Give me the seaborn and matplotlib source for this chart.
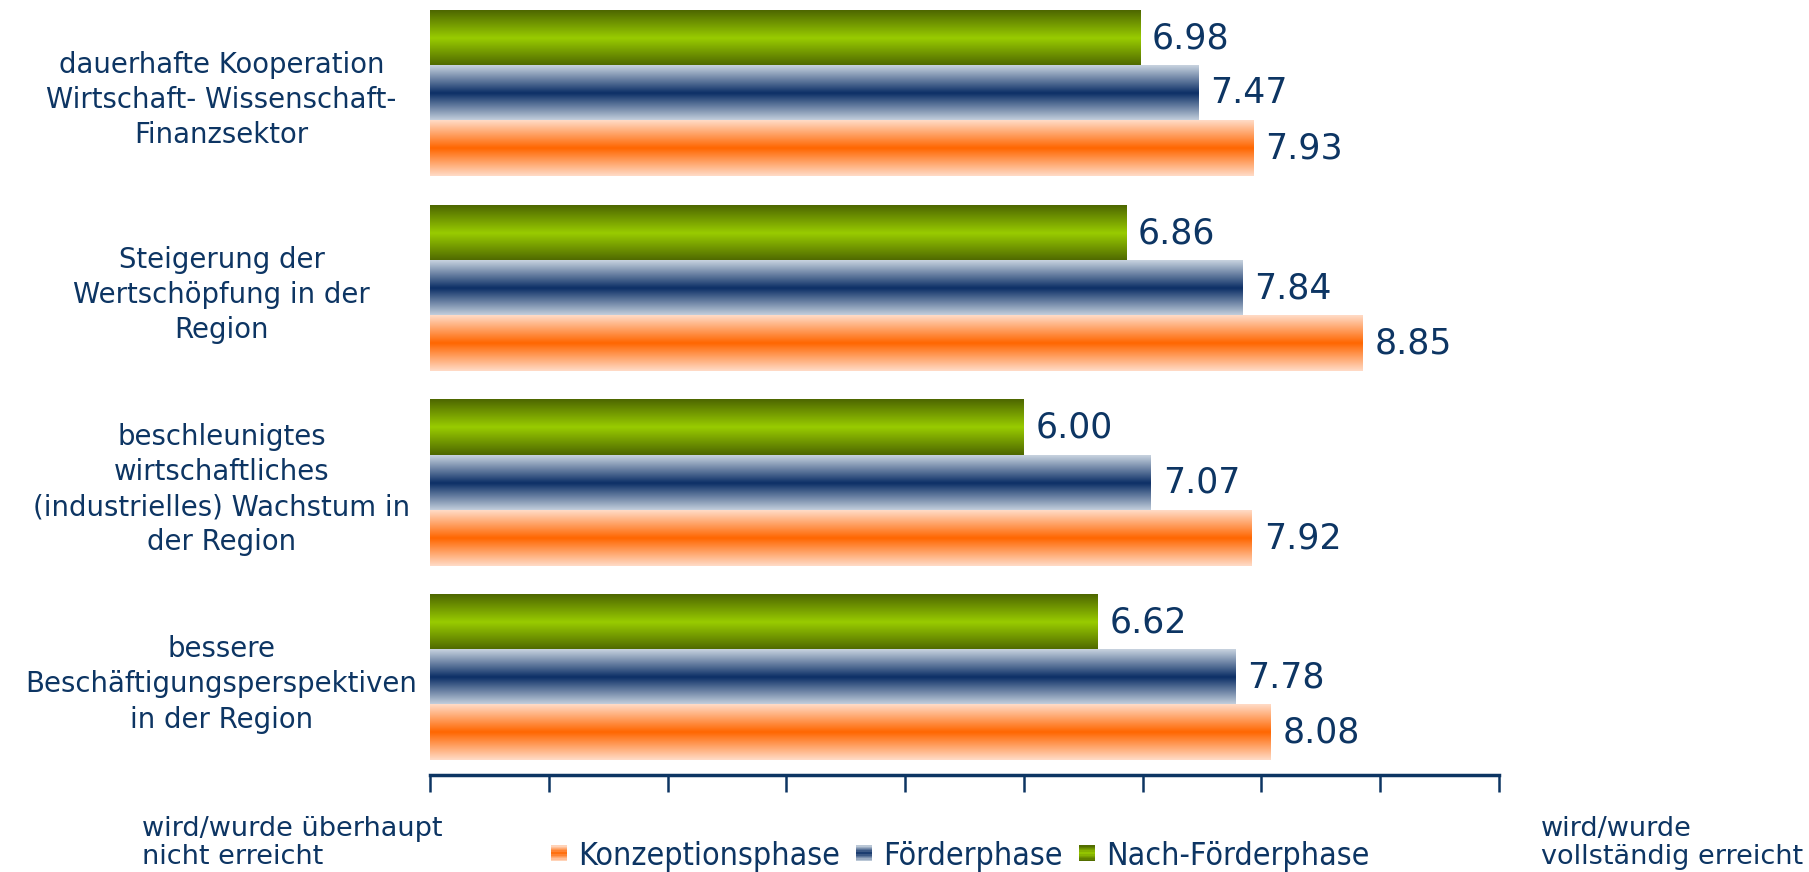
import numpy as np
import pandas as pd
import matplotlib
matplotlib.use("Agg")
import matplotlib.pyplot as plt
import seaborn as sns
from matplotlib.patches import Patch, Rectangle
from matplotlib.legend_handler import HandlerBase
from matplotlib.colors import LinearSegmentedColormap

categories = [
    "dauerhafte Kooperation\nWirtschaft- Wissenschaft-\nFinanzsektor",
    "Steigerung der\nWertschöpfung in der\nRegion",
    "beschleunigtes\nwirtschaftliches\n(industrielles) Wachstum in\nder Region",
    "bessere\nBeschäftigungsperspektiven\nin der Region",
]
phases = ["Konzeptionsphase", "Förderphase", "Nach-Förderphase"]
konzeption = [7.93, 8.85, 7.92, 8.08]
foerder = [7.47, 7.84, 7.07, 7.78]
nach = [6.98, 6.86, 6.00, 6.62]
x_ticks = [1, 2, 3, 4, 5, 6, 7, 8, 9, 10]
left_label = "wird/wurde überhaupt\nnicht erreicht"
right_label = "wird/wurde\nvollständig erreicht"

# gradient styles: (edge colour, centre colour)
grad = {
    "Konzeptionsphase": ("#ffdcc8", "#ff6600"),
    "Förderphase": ("#c9d4e0", "#0c2f66"),
    "Nach-Förderphase": ("#4d6600", "#99cc00"),
}
navy = "#0d3563"

df = pd.DataFrame({
    "Kategorie": categories * 3,
    "Phase": [p for p in phases for _ in categories],
    "Wert": konzeption + foerder + nach,
})

sns.set_theme(style="white")
plt.rcParams["font.family"] = ["DejaVu Sans"]

fig = plt.figure(figsize=(18.09, 8.72), dpi=100)
ax = fig.add_axes([430 / 1809, 97 / 872, 1069 / 1809, 775 / 872])

hue_order = ["Nach-Förderphase", "Förderphase", "Konzeptionsphase"]
sns.barplot(data=df, x="Wert", y="Kategorie", hue="Phase", hue_order=hue_order,
            order=categories, orient="h", width=0.85,
            palette={p: grad[p][1] for p in phases}, ax=ax, legend=False,
            saturation=1, errorbar=None)

x_start = x_ticks[0]
g = np.linspace(0, 1, 256).reshape(-1, 1)
for cont, ph in zip(ax.containers, hue_order):
    edge, centre = grad[ph]
    cmap = LinearSegmentedColormap.from_list(ph, [edge, centre, edge])
    for patch in cont.patches:
        x0 = max(patch.get_x(), x_start)
        x1 = patch.get_x() + patch.get_width()
        y0 = patch.get_y()
        h = patch.get_height()
        ax.imshow(g, cmap=cmap, aspect="auto", interpolation="bicubic",
                  extent=(x0, x1, y0 + h, y0), zorder=2)
        patch.set_facecolor("none")
        patch.set_edgecolor("none")
    ax.bar_label(cont, fmt="%.2f", padding=8.5, fontsize=25, color=navy)

ax.set_xlim(x_ticks[0], x_ticks[-1])
ax.set_ylim(3.5, -0.48)
ax.set_xticks(x_ticks)
ax.set_xticklabels([])
ax.set_xlabel("")
ax.set_ylabel("")
for s in ["top", "right", "left"]:
    ax.spines[s].set_visible(False)
ax.spines["bottom"].set_color(navy)
ax.spines["bottom"].set_linewidth(2.5)
ax.tick_params(axis="x", direction="out", length=12, width=1.8, color=navy, bottom=True)
ax.tick_params(axis="y", length=0, pad=150, labelsize=19.8, labelcolor=navy)
for lab in ax.get_yticklabels():
    lab.set_ha("center")
    lab.set_multialignment("center")
    lab.set_linespacing(1.33)

fig.text(142 / 1809, 1 - 843 / 872, left_label, fontsize=19.5, color=navy,
         va="center", ha="left", linespacing=1.1)
fig.text(1541 / 1809, 1 - 843 / 872, right_label, fontsize=19.5, color=navy,
         va="center", ha="left", linespacing=1.1)


class GradientHandler(HandlerBase):
    def __init__(self, edge, centre, n=12):
        super().__init__()
        self.cmap = LinearSegmentedColormap.from_list("h", [edge, centre, edge])
        self.n = n

    def create_artists(self, legend, orig_handle, xdescent, ydescent, width, height,
                       fontsize, trans):
        arts = []
        side = min(width, height)
        x0 = -xdescent + (width - side) / 2
        y0 = -ydescent + (height - side) / 2
        for i in range(self.n):
            c = self.cmap((i + 0.5) / self.n)
            r = Rectangle((x0, y0 + i * side / self.n), side, side / self.n * 1.05,
                          facecolor=c, edgecolor="none", transform=trans)
            arts.append(r)
        return arts


handles = [Patch(facecolor=grad[p][1], edgecolor="none") for p in phases]
handler_map = {h: GradientHandler(*grad[p]) for h, p in zip(handles, phases)}
leg = fig.legend(handles, phases, loc="center", bbox_to_anchor=(960 / 1809, 1 - 856 / 872),
                 ncol=3, frameon=False, handlelength=0.5, handleheight=0.5,
                 handletextpad=0.35, columnspacing=0.5, handler_map=handler_map,
                 prop={"family": "DejaVu Sans", "stretch": "condensed", "size": 23})
for t in leg.get_texts():
    t.set_color(navy)

fig.savefig("out.png", dpi=100, facecolor="white")
